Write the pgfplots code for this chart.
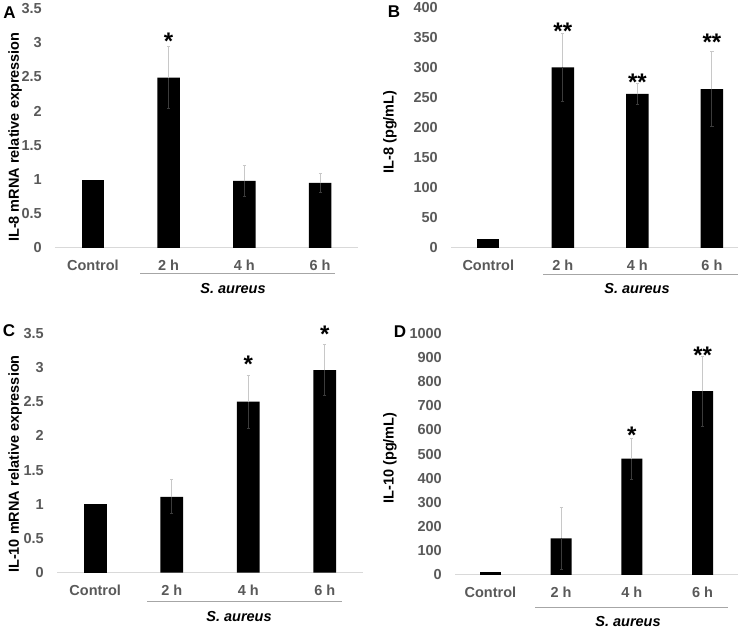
\documentclass[border=0pt]{standalone}
\usepackage{pgfplots}
\usepackage{pgfplotstable}
\pgfplotsset{compat=1.18}
\usepackage{fontspec}
\setmainfont{Liberation Sans}
\definecolor{tickgray}{HTML}{595959}
\definecolor{basegray}{HTML}{D9D9D9}
\definecolor{errgray}{HTML}{C8C8C8}
\definecolor{errdark}{HTML}{3C3C3C}
\definecolor{linegray}{HTML}{A6A6A6}
\newcommand{\lblfont}{\fontsize{14.5}{16}\selectfont\bfseries}
\newcommand{\starfont}{\fontsize{24}{24}\selectfont\bfseries}
\tikzset{sigstar/.style={font=\starfont, anchor=base, yshift=-13.8pt, inner sep=0pt},
  letter/.style={font=\fontsize{17}{18}\selectfont\bfseries, inner sep=0pt}}

% x = category (0 Control, 1 2h, 2 4h, 3 6h), y = mean, e = error
\pgfplotstableread{
x y e
1 2.49 0.45
2 0.98 0.23
3 0.95 0.14
}\dataA
\pgfplotstableread{
x y e
1 300 57
2 256 17.5
3 264 62
}\dataB
\pgfplotstableread{
x y e
1 1.11 0.25
2 2.50 0.385
3 2.96 0.375
}\dataC
\pgfplotstableread{
x y e
1 152 128
2 481 84
3 761 145
}\dataD

\pgfplotsset{
  panel/.style={
    scale only axis,
    anchor=south west,
    axis x line*=bottom, axis y line*=left,
    y axis line style={draw=none},
    x axis line style={draw=basegray, line width=1pt, -},
    major tick length=0pt,
    xmin=-0.5, xmax=3.5,
    xtick={0,1,2,3},
    xticklabels={Control,2 h,4 h,6 h},
    ymin=0,
    ybar, bar width=0.3, bar shift=0pt,
    x tick label style={font=\lblfont, text=tickgray, inner sep=0pt, anchor=center, yshift=-17.7pt},
    y tick label style={font=\lblfont, text=tickgray, inner sep=0pt, anchor=east, xshift=-13pt},
    /pgf/number format/assume math mode=true,
    /pgf/number format/1000 sep={},
    ylabel style={font=\lblfont, text=black, anchor=center},
    clip=false,
    enlargelimits=false,
  },
  ctrl/.style={fill=black, draw=none},
  barsup/.style={fill=black, draw=none,
    error bars/.cd, y dir=plus, y explicit,
    error bar style={errgray, line width=1pt},
    error mark options={rotate=90, errgray, mark size=1.6pt, line width=1pt}},
  barsdown/.style={fill=none, draw=none,
    error bars/.cd, y dir=minus, y explicit,
    error bar style={errdark, line width=1pt},
    error mark options={rotate=90, errdark, mark size=1.6pt, line width=1pt}},
}
\newcommand{\barset}[1]{%
  \addplot[barsup] table[x=x, y=y, y error=e] {#1};
  \addplot[barsdown] table[x=x, y=y, y error=e] {#1};
}
\begin{document}
\begin{tikzpicture}[x=1pt,y=1pt]
\useasboundingbox (0,0) rectangle (750,629);

% Panel A
\begin{axis}[panel, at={(55pt,381pt)}, width=303pt, height=239.5pt,
  ymax=3.5, ytick={0,0.5,1,1.5,2,2.5,3,3.5},
  ylabel={IL-8 mRNA relative expression},
  ylabel style={at={(axis description cs:-0.132,0.463)}}]
\addplot[ctrl] coordinates {(0,1.00)};
\barset{\dataA}
\node[sigstar] at (axis cs:1,3.10) {*};
\end{axis}

% Panel B
\begin{axis}[panel, at={(451pt,381pt)}, width=287pt, height=240.7pt,
  xmax=3.35, ymax=400, ytick={0,50,100,150,200,250,300,350,400},
  ylabel={IL-8 (pg/mL)},
  ylabel style={at={(axis description cs:-0.2125,0.482)}}]
\addplot[ctrl] coordinates {(0,15)};
\barset{\dataB}
\node[sigstar] at (axis cs:1,370) {**};
\node[sigstar] at (axis cs:2,285) {**};
\node[sigstar] at (axis cs:3,351) {**};
\end{axis}

% Panel C
\begin{axis}[panel, at={(57pt,56.3pt)}, width=306pt, height=239.4pt,
  ymax=3.5, ytick={0,0.5,1,1.5,2,2.5,3,3.5},
  ylabel={IL-10 mRNA relative expression},
  ylabel style={at={(axis description cs:-0.137,0.454)}}]
\addplot[ctrl] coordinates {(0,1.00)};
\barset{\dataC}
\node[sigstar] at (axis cs:2,3.13) {*};
\node[sigstar] at (axis cs:3,3.57) {*};
\end{axis}

% Panel D
\begin{axis}[panel, at={(455pt,54pt)}, width=283pt, height=241.7pt,
  ymax=1000, ytick={0,100,200,300,400,500,600,700,800,900,1000},
  ylabel={IL-10 (pg/mL)},
  ylabel style={at={(axis description cs:-0.23,0.484)}}]
\addplot[ctrl] coordinates {(0,14)};
\barset{\dataD}
\node[sigstar] at (axis cs:2,600) {*};
\node[sigstar] at (axis cs:3,934) {**};
\end{axis}

% group lines and labels
\draw[linegray, line width=1pt] (140,355) -- (335,355);
\draw[linegray, line width=1pt] (543,354) -- (738,354);
\draw[linegray, line width=1pt] (147,27.3) -- (342,27.3);
\draw[linegray, line width=1pt] (535,21.7) -- (728,21.7);
\node[font=\lblfont\itshape, inner sep=0pt] at (233,340) {S. aureus};
\node[font=\lblfont\itshape, inner sep=0pt] at (637,340) {S. aureus};
\node[font=\lblfont\itshape, inner sep=0pt] at (239,12.3) {S. aureus};
\node[font=\lblfont\itshape, inner sep=0pt] at (628,7.5) {S. aureus};

% panel letters
\node[letter] at (9.5,616.5) {A};
\node[letter] at (394,617) {B};
\node[letter] at (9,298.5) {C};
\node[letter] at (400,297) {D};
\end{tikzpicture}
\end{document}
